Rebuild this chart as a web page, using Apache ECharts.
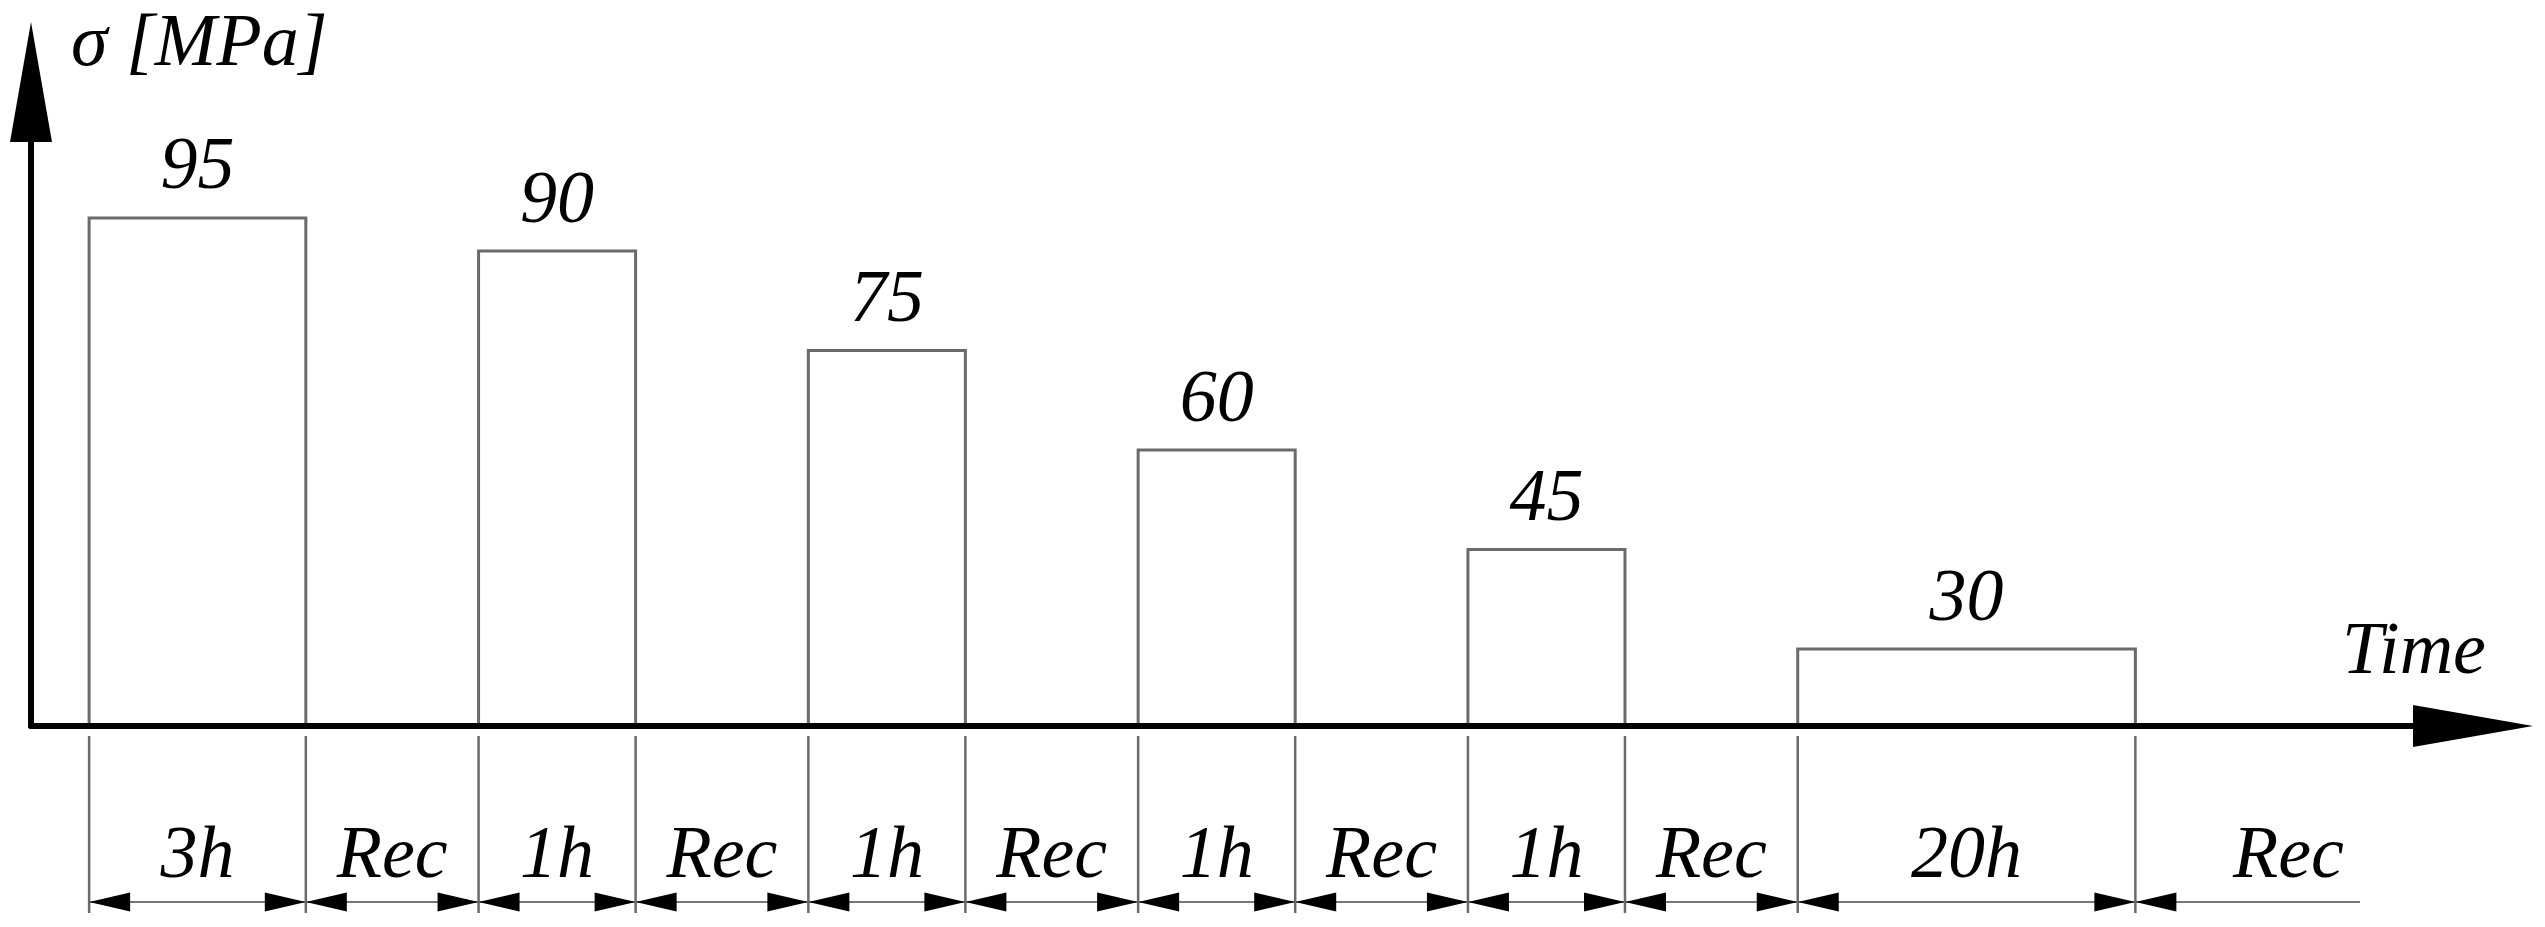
<!DOCTYPE html>
<html>
<head>
<meta charset="utf-8">
<script src="https://cdn.jsdelivr.net/npm/echarts@6/dist/echarts.min.js"></script>
<style>
  html, body { margin: 0; padding: 0; background: #fff; }
  #chart { width: 2545px; height: 927px; }
</style>
</head>
<body>
<div id="chart"></div>
<script>
// ---- data ----
const segmentLabels = ['3h', 'Rec', '1h', 'Rec', '1h', 'Rec', '1h', 'Rec', '1h', 'Rec', '20h', 'Rec'];
// schematic lengths of each segment along the time axis (1h block = 10)
const segmentSpans = [13.8, 11.0, 10.0, 11.0, 10.0, 11.0, 10.0, 11.0, 10.0, 11.0, 21.5, 14.3];
// gap between the stress axis and the first segment (same units)
const leadIn = 3.7;
// stress level of each loading step [MPa]
const stressLevels = [95, 90, 75, 60, 45, 30];
const yAxisName = 'σ [MPa]';
const xAxisName = 'Time';
const Y_MIN = 18.4, Y_MAX = 115.5, X_MAX = 155.5;

// ---- build series data from the arrays ----
const segData = [];
let cursor = leadIn;
segmentSpans.forEach((s, i) => {
  segData.push([cursor, cursor + s, i, i === segmentSpans.length - 1 ? 1 : 0]);
  cursor += s;
});
const barData = [];
let li = 0;
segData.forEach((d, i) => {
  if (segmentLabels[i] !== 'Rec') {
    barData.push([d[0], d[1], stressLevels[li++]]);
  }
});

const FONT = 'italic 74px "Liberation Serif", "Times New Roman", serif';
const GRAY = '#6a6a6a';

const chart = echarts.init(document.getElementById('chart'), null, { renderer: 'canvas' });
chart.setOption({
  animation: false,
  backgroundColor: '#ffffff',
  grid: { left: 31, right: 72, top: 82, bottom: 201, containLabel: false },
  xAxis: {
    type: 'value', min: 0, max: X_MAX,
    axisLine: { show: true, symbol: ['none', 'triangle'], symbolSize: [42, 120],
      lineStyle: { color: '#000', width: 6 } },
    axisTick: { show: false }, axisLabel: { show: false }, splitLine: { show: false },
    name: xAxisName, nameLocation: 'end', nameGap: -59,
    nameTextStyle: { fontFamily: 'Liberation Serif', fontStyle: 'italic', fontSize: 74, color: '#000',
      align: 'center', verticalAlign: 'bottom', lineHeight: 144 }
  },
  yAxis: {
    type: 'value', min: Y_MIN, max: Y_MAX,
    axisLine: { show: true, symbol: ['none', 'triangle'], symbolSize: [42, 120],
      lineStyle: { color: '#000', width: 6 } },
    axisTick: { show: false }, axisLabel: { show: false }, splitLine: { show: false },
    name: yAxisName, nameLocation: 'end', nameGap: 36,
    nameTextStyle: { fontFamily: 'Liberation Serif', fontStyle: 'italic', fontSize: 74, color: '#000',
      align: 'left', verticalAlign: 'middle', padding: [0, 0, 0, 40] }
  },
  series: [
    {
      type: 'custom',
      data: barData,
      encode: { x: [0, 1], y: 2 },
      clip: false,
      renderItem: function (params, api) {
        const x0 = api.value(0), x1 = api.value(1), v = api.value(2);
        const p0 = api.coord([x0, v]);
        const p1 = api.coord([x1, v]);
        const base = api.coord([x0, Y_MIN])[1];
        return {
          type: 'group',
          children: [
            { type: 'polyline',
              shape: { points: [[p0[0], base - 3], [p0[0], p0[1]], [p1[0], p1[1]], [p1[0], base - 3]] },
              style: { stroke: GRAY, lineWidth: 3, fill: null } },
            { type: 'text',
              style: { text: String(v), x: (p0[0] + p1[0]) / 2, y: p0[1] - 49,
                align: 'center', verticalAlign: 'middle', font: FONT, fill: '#000' } }
          ]
        };
      }
    },
    {
      type: 'custom',
      data: segData,
      encode: { x: [0, 1] },
      clip: false,
      renderItem: function (params, api) {
        const xa = api.coord([api.value(0), Y_MIN]);
        const xb = api.coord([api.value(1), Y_MIN]);
        const isLast = api.value(3) === 1;
        const label = segmentLabels[api.value(2)];
        const base = xa[1];
        const x0 = xa[0], x1 = xb[0];
        const yd = base + 176;
        const children = [
          { type: 'line', shape: { x1: x0, y1: base + 10, x2: x0, y2: base + 187 },
            style: { stroke: GRAY, lineWidth: 2.5 } },
          { type: 'line', shape: { x1: x0, y1: yd, x2: x1, y2: yd },
            style: { stroke: '#777', lineWidth: 2 } },
          { type: 'polygon', shape: { points: [[x0, yd], [x0 + 41, yd - 9.5], [x0 + 41, yd + 9.5]] },
            style: { fill: '#000' } }
        ];
        if (!isLast) {
          children.push({ type: 'polygon', shape: { points: [[x1, yd], [x1 - 41, yd - 9.5], [x1 - 41, yd + 9.5]] },
            style: { fill: '#000' } });
        }
        children.push({ type: 'text',
          style: { text: label, x: isLast ? x1 - 16 : (x0 + x1) / 2, y: base + 132,
            align: isLast ? 'right' : 'center', verticalAlign: 'middle', font: FONT, fill: '#000' } });
        return { type: 'group', children: children };
      }
    }
  ]
});
</script>
</body>
</html>
